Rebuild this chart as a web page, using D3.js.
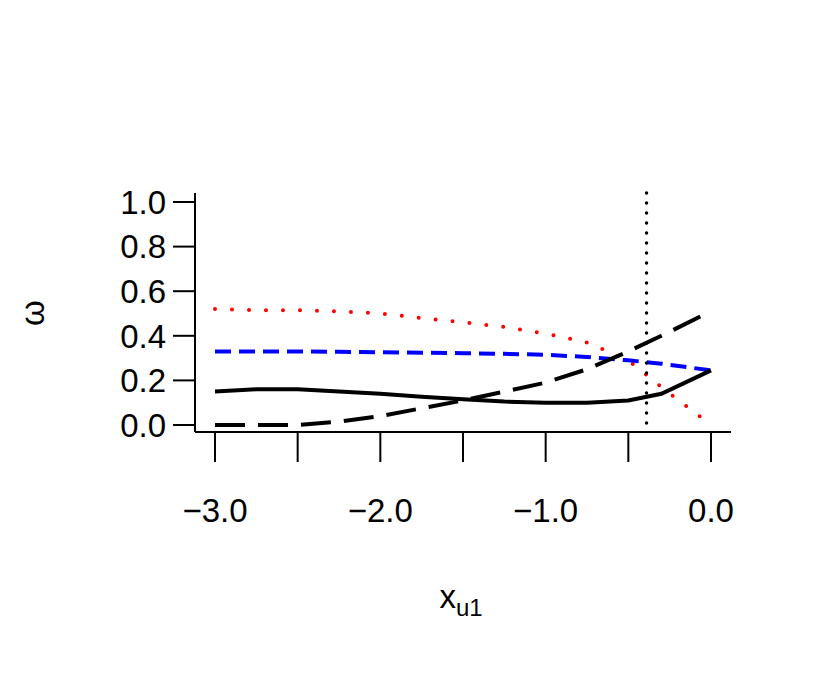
<!DOCTYPE html>
<html><head><meta charset="utf-8">
<script src="https://cdn.jsdelivr.net/npm/d3@7"></script>
<style>body{margin:0;background:#fff}</style>
</head><body>
<div class="viz"></div>
<script>
const xTicks = [-3, -2.5, -2, -1.5, -1, -0.5, 0];
const xLabels = [-3, -2, -1, 0];
const yTicks = [0, 0.2, 0.4, 0.6, 0.8, 1.0];
const xs = [-3, -2.75, -2.5, -2.25, -2, -1.75, -1.5, -1.25, -1, -0.75, -0.5, -0.3, 0];
const redVals   = [0.52, 0.515, 0.515, 0.51, 0.50, 0.48, 0.46, 0.44, 0.41, 0.37, 0.29, 0.17, 0.0];
const blueVals  = [0.33, 0.33, 0.33, 0.328, 0.326, 0.324, 0.322, 0.319, 0.315, 0.305, 0.29, 0.275, 0.245];
const solidVals = [0.15, 0.16, 0.16, 0.15, 0.14, 0.127, 0.115, 0.105, 0.10, 0.10, 0.11, 0.14, 0.245];
const dashVals  = [0.0, 0.0, 0.0, 0.015, 0.04, 0.075, 0.11, 0.15, 0.19, 0.25, 0.33, 0.40, 0.51];
const vLine = -0.39;

const width = 830, height = 678;
const svg = d3.select(".viz").append("svg").attr("width", width).attr("height", height)
  .style("font-family", "Liberation Sans, Arial, sans-serif");

const x = d3.scaleLinear().domain([-3, 0]).range([215, 711]);
const y = d3.scaleLinear().domain([0, 1]).range([425, 202]);

// axes lines
svg.append("line").attr("x1", 195).attr("x2", 195).attr("y1", 193).attr("y2", 432).attr("stroke", "#000").attr("stroke-width", 2);
svg.append("line").attr("x1", 195).attr("x2", 731).attr("y1", 432).attr("y2", 432).attr("stroke", "#000").attr("stroke-width", 2);

// y ticks
yTicks.forEach(t => {
  svg.append("line").attr("x1", 173).attr("x2", 195).attr("y1", y(t)).attr("y2", y(t)).attr("stroke", "#000").attr("stroke-width", 2);
  svg.append("text").attr("x", 166).attr("y", y(t)).attr("dy", "0.36em").attr("text-anchor", "end")
    .style("font-size", "33px").text(t.toFixed(1));
});

// x ticks
xTicks.forEach(t => {
  svg.append("line").attr("x1", x(t)).attr("x2", x(t)).attr("y1", 432).attr("y2", 462).attr("stroke", "#000").attr("stroke-width", 2);
});
xLabels.forEach(t => {
  svg.append("text").attr("x", x(t)).attr("y", 522).attr("text-anchor", "middle")
    .style("font-size", "33px").text(t === 0 ? "0.0" : "\u2212" + Math.abs(t).toFixed(1));
});

// axis titles
svg.append("text").attr("transform", "translate(44,313) rotate(-90)").attr("text-anchor", "middle")
  .style("font-size", "33px").text("ω");
const xt = svg.append("text").attr("x", 461).attr("y", 608).attr("text-anchor", "middle").style("font-size", "33px");
xt.append("tspan").text("x");
xt.append("tspan").attr("dy", 8).style("font-size", "24px").text("u1");

const line = d3.line().x(d => x(d[0])).y(d => y(d[1]));
const series = [
  {v: redVals, color: "red", dash: "0,17", width: 4, cap: "round"},
  {v: blueVals, color: "blue", dash: "16,8", width: 4, cap: "butt"},
  {v: solidVals, color: "#000", dash: null, width: 4, cap: "butt"},
  {v: dashVals, color: "#000", dash: "30,13", width: 4, cap: "butt"}
];
series.forEach(s => {
  svg.append("path").attr("d", line(xs.map((xx, i) => [xx, s.v[i]])))
    .attr("fill", "none").attr("stroke", s.color).attr("stroke-width", s.width)
    .attr("stroke-linecap", s.cap).attr("stroke-dasharray", s.dash);
});

svg.append("line").attr("x1", x(vLine)).attr("x2", x(vLine)).attr("y1", 193).attr("y2", 432)
  .attr("stroke", "#000").attr("stroke-width", 3.5).attr("stroke-linecap", "round").attr("stroke-dasharray", "0,10");
</script>
</body></html>
